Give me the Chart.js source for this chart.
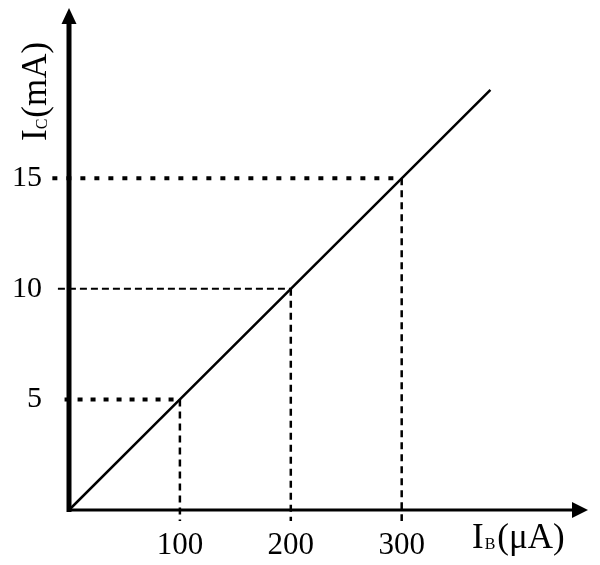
<!DOCTYPE html>
<html>
<head>
<meta charset="utf-8">
<script src="https://cdn.jsdelivr.net/npm/chart.js@4"></script>
<style>
  body { margin: 0; background: #fff; }
  canvas { display: block; }
</style>
</head>
<body>
<canvas id="icChart" width="600" height="565"></canvas>
<script>
// transfer line I_C vs I_B
const ibValues = [0, 100, 200, 300, 380];
const icValues = [0, 5, 10, 15, 19];

// marked points (dashed guides)
const guideIb = [100, 200, 300];
const guideIc = [5, 10, 15];

const xTicks = [100, 200, 300];
const yTicks = [5, 10, 15];

const serif = 'Liberation Serif';

// styles for the horizontal guides, bottom to top
const hStyles = [
  { width: 4, dash: [5, 8], start: -4 },
  { width: 2, dash: [7, 4], start: -10 },
  { width: 4, dash: [5, 9], start: -15 }
];

const datasets = [{
  data: ibValues.map((v, i) => ({ x: v, y: icValues[i] })),
  borderColor: '#000',
  borderWidth: 2.5,
  pointRadius: 0,
  clip: false,
  order: 0
}];

guideIb.forEach((ib, i) => {
  const st = hStyles[i];
  datasets.push({
    data: [{ x: st.start, y: guideIc[i] }, { x: ib, y: guideIc[i] }],
    borderColor: '#000',
    borderWidth: st.width,
    borderDash: st.dash,
    borderCapStyle: 'butt',
    pointRadius: 0,
    clip: false,
    order: 1
  });
  datasets.push({
    data: [{ x: ib, y: guideIc[i] }, { x: ib, y: -0.5 }],
    borderColor: '#000',
    borderWidth: 2.5,
    borderDash: [7, 5],
    pointRadius: 0,
    clip: false,
    order: 1
  });
});

// axes with arrow heads plus the axis titles
const axesPlugin = {
  id: 'axes',
  afterDatasetsDraw(chart) {
    const ctx = chart.ctx;
    const xs = chart.scales.x, ys = chart.scales.y;
    const area = chart.chartArea;
    const x0 = xs.getPixelForValue(0);
    const y0 = ys.getPixelForValue(0);
    ctx.save();
    ctx.fillStyle = '#000';
    ctx.strokeStyle = '#000';
    // y axis
    ctx.lineWidth = 5;
    ctx.beginPath();
    ctx.moveTo(x0, y0 + 2);
    ctx.lineTo(x0, area.top + 12);
    ctx.stroke();
    ctx.beginPath();
    ctx.moveTo(x0, area.top);
    ctx.lineTo(x0 - 7.5, area.top + 16);
    ctx.lineTo(x0 + 7.5, area.top + 16);
    ctx.closePath();
    ctx.fill();
    // x axis
    ctx.lineWidth = 3;
    ctx.beginPath();
    ctx.moveTo(x0, y0);
    ctx.lineTo(area.right - 12, y0);
    ctx.stroke();
    ctx.beginPath();
    ctx.moveTo(area.right, y0);
    ctx.lineTo(area.right - 16, y0 - 8);
    ctx.lineTo(area.right - 16, y0 + 8);
    ctx.closePath();
    ctx.fill();

    // y title, rotated
    ctx.textBaseline = 'alphabetic';
    ctx.textAlign = 'left';
    ctx.translate(46, 141);
    ctx.rotate(-Math.PI / 2);
    ctx.font = '35px "' + serif + '"';
    ctx.fillText('I', 0, 0);
    let w = ctx.measureText('I').width;
    ctx.font = '16px "' + serif + '"';
    ctx.fillText('C', w, 1);
    w += ctx.measureText('C').width + 1;
    ctx.font = '35px "' + serif + '"';
    ctx.fillText('(mA)', w, 0);
    ctx.setTransform(1, 0, 0, 1, 0, 0);

    // x title
    ctx.font = '35px "' + serif + '"';
    ctx.fillText('I', 472, 548);
    let xw = 472 + ctx.measureText('I').width;
    ctx.font = '16px "' + serif + '"';
    ctx.fillText('B', xw + 1, 549);
    xw += ctx.measureText('B').width + 3;
    ctx.font = '35px "' + serif + '"';
    ctx.fillText('(\u03bcA)', xw, 548);
    ctx.restore();
  }
};

new Chart(document.getElementById('icChart'), {
  type: 'line',
  data: { datasets: datasets },
  options: {
    responsive: false,
    animation: false,
    devicePixelRatio: 1,
    layout: { padding: { top: 8, right: 12, left: 0, bottom: 0 } },
    plugins: { legend: { display: false }, tooltip: { enabled: false } },
    scales: {
      x: {
        type: 'linear',
        min: 0,
        max: 468,
        grid: { display: false, drawTicks: false },
        border: { display: false },
        afterBuildTicks: s => { s.ticks = xTicks.map(v => ({ value: v })); },
        afterFit: s => { s.height = 55; s.paddingLeft = 0; s.paddingRight = 0; },
        ticks: {
          color: '#000',
          font: { family: serif, size: 31 },
          padding: 17,
          maxRotation: 0,
          autoSkip: false
        }
      },
      y: {
        type: 'linear',
        min: 0,
        max: 22.7,
        grid: { display: false, drawTicks: false },
        border: { display: false },
        afterBuildTicks: s => { s.ticks = yTicks.map(v => ({ value: v })); },
        afterFit: s => { s.width = 69; s.paddingTop = 0; s.paddingBottom = 0; },
        ticks: {
          color: '#000',
          font: { family: serif, size: 30 },
          padding: 27,
          autoSkip: false
        }
      }
    }
  },
  plugins: [axesPlugin]
});
</script>
</body>
</html>
